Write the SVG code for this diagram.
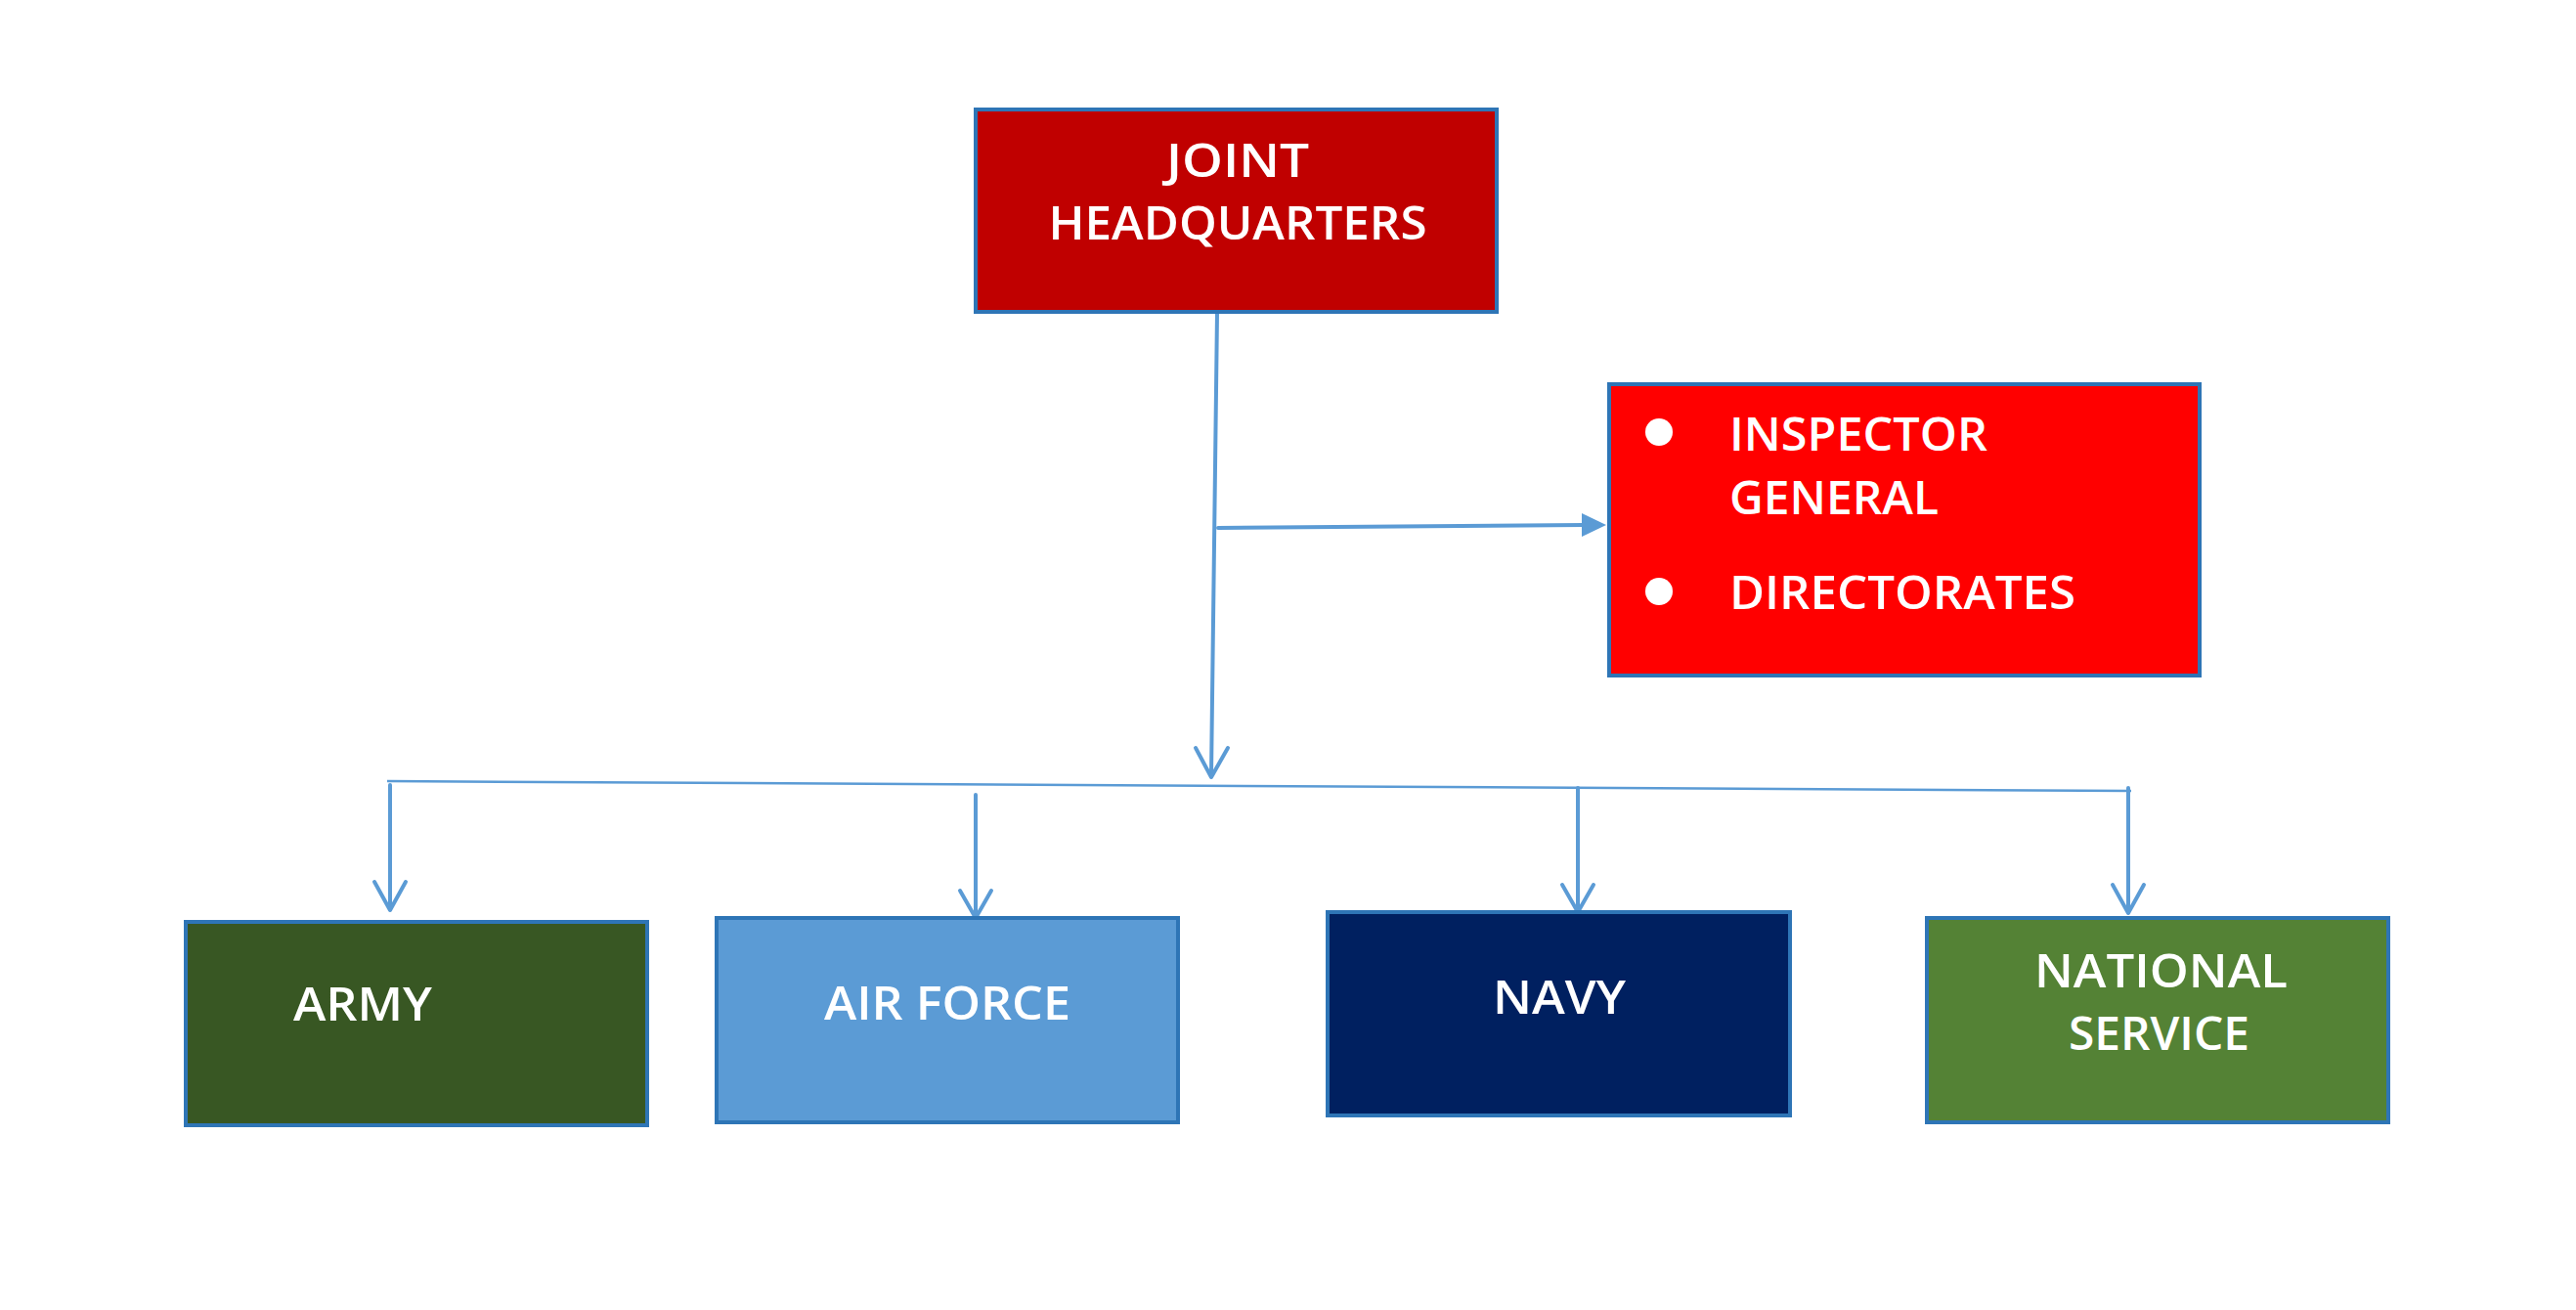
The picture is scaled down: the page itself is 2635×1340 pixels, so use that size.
<svg xmlns="http://www.w3.org/2000/svg" width="2635" height="1340" viewBox="0 0 2635 1340">
<style>
.box{stroke:#2E75B6;stroke-width:4}
.t{font-family:"Open Sans","Liberation Sans",Arial,sans-serif;font-weight:600;font-size:47px;fill:#FFFFFF;}
.c{fill:none;stroke:#5B9BD5;stroke-width:4;stroke-linecap:round;stroke-linejoin:round}
.bus{fill:none;stroke:#5B9BD5;stroke-width:2.5}
</style>
<rect width="2635" height="1340" fill="#FFFFFF"/>
<g id="connectors">
<line class="c" x1="1245" y1="320" x2="1239" y2="793"/>
<polyline class="c" points="1223,765 1239,795 1256,765"/>
<line class="c" x1="1246" y1="540" x2="1620" y2="537"/>
<polygon points="1618,525 1643,537 1618,549" fill="#5B9BD5"/>
<line class="bus" x1="396" y1="799" x2="2180" y2="809"/>
<line class="c" x1="399" y1="803" x2="399" y2="930"/>
<polyline class="c" points="383,902 399,931 415,902"/>
<line class="c" x1="998" y1="813" x2="998" y2="938"/>
<polyline class="c" points="982,911 998,939 1014,911"/>
<line class="c" x1="1614" y1="806" x2="1614" y2="932"/>
<polyline class="c" points="1598,905 1614,933 1630,905"/>
<line class="c" x1="2177" y1="806" x2="2177" y2="933"/>
<polyline class="c" points="2161,905 2177,934 2193,905"/>
</g>
<g id="joint-hq">
<rect class="box" x="998" y="112" width="533" height="207" fill="#C00000"/>
<text class="t" x="1266" y="181" text-anchor="middle" textLength="146" lengthAdjust="spacingAndGlyphs">JOINT</text>
<text class="t" x="1266" y="245" text-anchor="middle" textLength="387" lengthAdjust="spacingAndGlyphs">HEADQUARTERS</text>
</g>
<g id="inspector">
<rect class="box" x="1646" y="393" width="604" height="298" fill="#FF0000"/>
<circle cx="1697" cy="442" r="14" fill="#FFFFFF"/>
<circle cx="1697" cy="605" r="14" fill="#FFFFFF"/>
<text class="t" x="1769" y="461" textLength="264" lengthAdjust="spacingAndGlyphs">INSPECTOR</text>
<text class="t" x="1769" y="526" textLength="214" lengthAdjust="spacingAndGlyphs">GENERAL</text>
<text class="t" x="1769" y="623" textLength="354" lengthAdjust="spacingAndGlyphs">DIRECTORATES</text>
</g>
<g id="army">
<rect class="box" x="190" y="943" width="472" height="208" fill="#385723"/>
<text class="t" x="300" y="1044" textLength="142" lengthAdjust="spacingAndGlyphs">ARMY</text>
</g>
<g id="air-force">
<rect class="box" x="733" y="939" width="472" height="209" fill="#5B9BD5"/>
<text class="t" x="843" y="1043" textLength="252" lengthAdjust="spacingAndGlyphs">AIR FORCE</text>
</g>
<g id="navy">
<rect class="box" x="1358" y="933" width="473" height="208" fill="#002060"/>
<text class="t" x="1527" y="1037" textLength="136" lengthAdjust="spacingAndGlyphs">NAVY</text>
</g>
<g id="national-service">
<rect class="box" x="1971" y="939" width="472" height="209" fill="#548235"/>
<text class="t" x="2081" y="1010" textLength="259" lengthAdjust="spacingAndGlyphs">NATIONAL</text>
<text class="t" x="2116" y="1074" textLength="185" lengthAdjust="spacingAndGlyphs">SERVICE</text>
</g>
</svg>
